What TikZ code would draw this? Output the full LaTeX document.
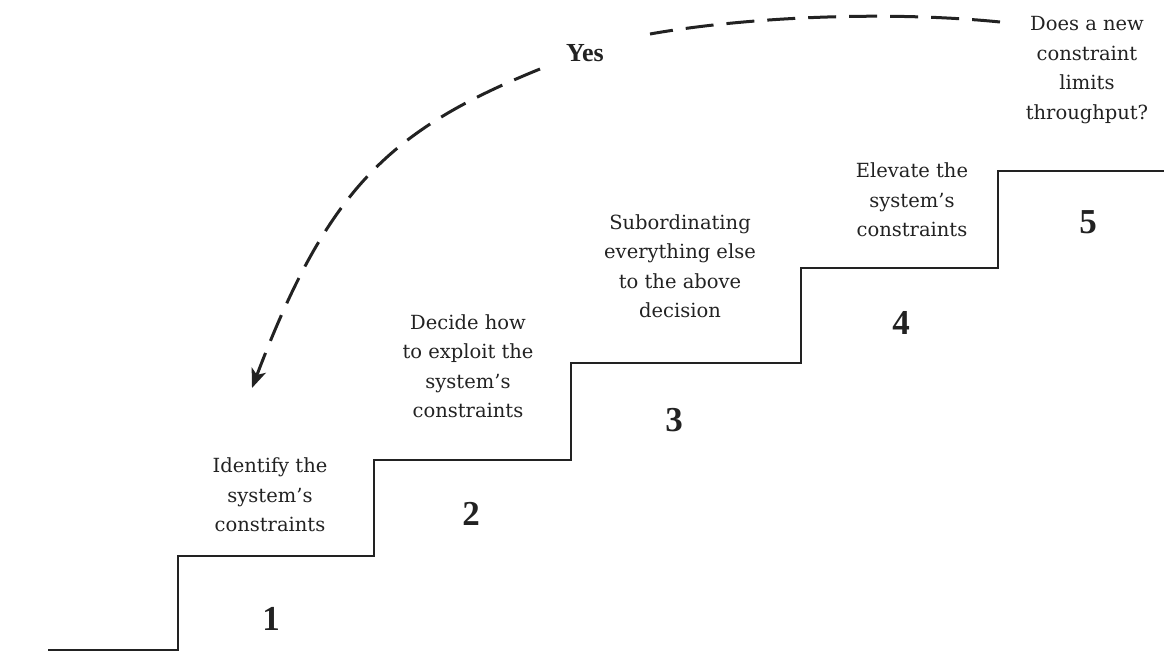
\documentclass[tikz,border=0pt]{standalone}
\usepackage{fontspec}
\newfontfamily\numfont{Liberation Serif}
\newfontfamily\stepfont{DejaVu Serif}
\usetikzlibrary{arrows.meta}
\definecolor{ink}{HTML}{222222}
\tikzset{
  stair/.style={draw=ink, line width=2pt, line join=miter},
  label/.style={align=center, inner sep=0pt, text=ink,
    font=\stepfont\fontsize{19.5}{29.5}\selectfont},
  stepnum/.style={inner sep=0pt, text=ink,
    font=\numfont\bfseries\fontsize{35}{35}\selectfont},
  loopback/.style={draw=ink, line width=3pt, dash pattern=on 28pt off 13pt},
}
\begin{document}
\begin{tikzpicture}[x=1pt, y=-1pt]
  \useasboundingbox (0,0) rectangle (1164,652);

  % staircase outline
  \coordinate (s0) at (48,650);
  \coordinate (s1) at (178,650);
  \coordinate (s2) at (178,556);
  \coordinate (s3) at (374,556);
  \coordinate (s4) at (374,460);
  \coordinate (s5) at (571,460);
  \coordinate (s6) at (571,363);
  \coordinate (s7) at (801,363);
  \coordinate (s8) at (801,268);
  \coordinate (s9) at (998,268);
  \coordinate (s10) at (998,171);
  \coordinate (s11) at (1164,171);
  \draw[stair] (s0) -- (s1) -- (s2) -- (s3) -- (s4) -- (s5) -- (s6)
    -- (s7) -- (s8) -- (s9) -- (s10) -- (s11);

  % step numbers
  \node[stepnum] (n1) at (271,619) {1};
  \node[stepnum] (n2) at (471,514) {2};
  \node[stepnum] (n3) at (674,420) {3};
  \node[stepnum] (n4) at (901,323) {4};
  \node[stepnum] (n5) at (1088,222) {5};

  % step descriptions
  \node[label] (t1) at (270,495) {Identify the\\system’s\\constraints};
  \node[label] (t2) at (468,366) {Decide how\\to exploit the\\system’s\\constraints};
  \node[label] (t3) at (680,266) {Subordinating\\everything else\\to the above\\decision};
  \node[label] (t4) at (912,200) {Elevate the\\system’s\\constraints};
  \node[label] (t5) at (1087,70) {Does a new\\constraint\\limits\\throughput?};

  % feedback loop back to step 1
  \node[inner sep=0pt, text=ink, font=\numfont\bfseries\fontsize{26}{26}\selectfont]
    (yes) at (585,53) {Yes};
  \coordinate (loopstart) at (1000,22);
  \coordinate (yesR) at (650,34);
  \coordinate (yesL) at (540,69);
  \coordinate (looptip) at (252,388);
  \draw[loopback] (loopstart) .. controls (880,10) and (740,18) .. (yesR);
  \draw[loopback, -{Stealth[length=19pt, width=15pt, inset=5pt]}]
    (yesL) .. controls (390,130) and (328,188) .. (looptip);
\end{tikzpicture}
\end{document}
